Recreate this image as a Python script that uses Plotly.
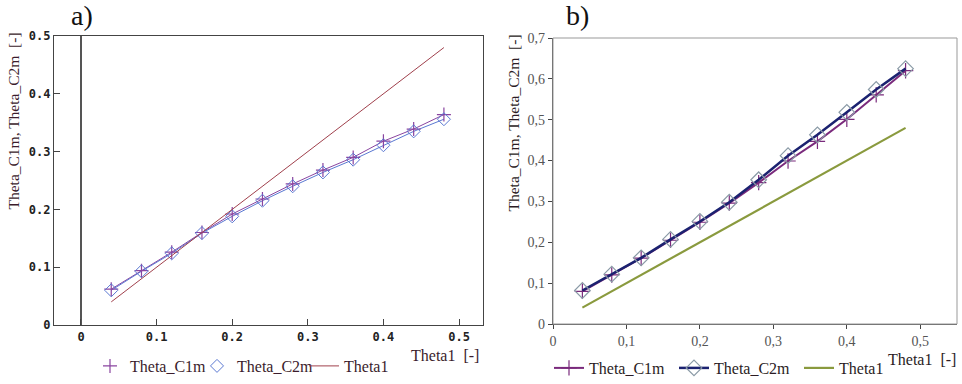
import plotly.graph_objects as go

# ---------------- data ----------------
theta1 = [0.04, 0.08, 0.12, 0.16, 0.20, 0.24, 0.28, 0.32, 0.36, 0.40, 0.44, 0.48]

a_c1m = [0.062, 0.094, 0.126, 0.160, 0.192, 0.218, 0.244, 0.268, 0.290, 0.318, 0.339, 0.364]
a_c2m = [0.060, 0.093, 0.124, 0.159, 0.188, 0.215, 0.240, 0.264, 0.286, 0.311, 0.335, 0.356]
a_theta1 = [0.04, 0.08, 0.12, 0.16, 0.20, 0.24, 0.28, 0.32, 0.36, 0.40, 0.44, 0.48]

b_c1m = [0.080, 0.120, 0.161, 0.205, 0.249, 0.296, 0.346, 0.399, 0.447, 0.501, 0.561, 0.620]
b_c2m = [0.082, 0.122, 0.162, 0.207, 0.251, 0.298, 0.353, 0.412, 0.463, 0.518, 0.574, 0.625]
b_theta1 = [0.04, 0.08, 0.12, 0.16, 0.20, 0.24, 0.28, 0.32, 0.36, 0.40, 0.44, 0.48]

a_xtick_vals = [0, 0.1, 0.2, 0.3, 0.4, 0.5]
a_xtick_text = ["0", "0.1", "0.2", "0.3", "0.4", "0.5"]
a_ytick_vals = [0, 0.1, 0.2, 0.3, 0.4, 0.5]
a_ytick_text = ["0", "0.1", "0.2", "0.3", "0.4", "0.5"]

b_xtick_vals = [0, 0.1, 0.2, 0.3, 0.4, 0.5]
b_xtick_text = ["0", "0,1", "0,2", "0,3", "0,4", "0,5"]
b_ytick_vals = [0, 0.1, 0.2, 0.3, 0.4, 0.5, 0.6, 0.7]
b_ytick_text = ["0", "0,1", "0,2", "0,3", "0,4", "0,5", "0,6", "0,7"]

series_names = ["Theta_C1m", "Theta_C2m", "Theta1"]
y_title = "Theta_C1m, Theta_C2m\u00a0\u00a0[-]"
x_title = "Theta1\u00a0\u00a0[-]"

# ---------------- styles ----------------
W, H = 962, 384
SERIF = "Liberation Serif"
MONO = "DejaVu Sans Mono"
TXT_A = "#3b1c2c"
TXT_B = "#2b1c24"

A_C1 = "#8a45a0"
A_C2 = "#5a78d2"
A_T1 = "#a0404c"
B_C1 = "#7a2a7c"
B_C2 = "#1b2270"
B_T1 = "#8a9a3e"

fig = go.Figure()

# ---- panel a ----
fig.add_trace(go.Scatter(x=theta1, y=a_c1m, mode="lines", line=dict(color=A_C1, width=1),
                         xaxis="x", yaxis="y", showlegend=False, hoverinfo="skip"))
fig.add_trace(go.Scatter(x=theta1, y=a_c2m, mode="lines", line=dict(color=A_C2, width=1),
                         xaxis="x", yaxis="y", showlegend=False, hoverinfo="skip"))
fig.add_trace(go.Scatter(x=theta1, y=a_c1m, mode="markers", name=series_names[0],
                         marker=dict(symbol="cross-thin-open", size=10, color=A_C1,
                                     line=dict(color=A_C1, width=1.2)),
                         xaxis="x", yaxis="y", legend="legend"))
fig.add_trace(go.Scatter(x=theta1, y=a_c2m, mode="markers", name=series_names[1],
                         marker=dict(symbol="diamond-open", size=10, color=A_C2,
                                     line=dict(color=A_C2, width=1)),
                         xaxis="x", yaxis="y", legend="legend"))
fig.add_trace(go.Scatter(x=theta1, y=a_theta1, mode="lines", name=series_names[2],
                         line=dict(color=A_T1, width=1),
                         xaxis="x", yaxis="y", legend="legend"))

# ---- panel b ----
fig.add_trace(go.Scatter(x=theta1, y=b_c1m, mode="lines+markers", name=series_names[0],
                         line=dict(color=B_C1, width=2),
                         marker=dict(symbol="cross-thin-open", size=11, color=B_C1,
                                     line=dict(color=B_C1, width=1.2)),
                         xaxis="x2", yaxis="y2", legend="legend2"))
fig.add_trace(go.Scatter(x=theta1, y=b_c2m, mode="lines+markers", name=series_names[1],
                         line=dict(color=B_C2, width=2.5),
                         marker=dict(symbol="diamond-open", size=12, color="#8a9aa6",
                                     line=dict(color="#8a9aa6", width=1.2)),
                         xaxis="x2", yaxis="y2", legend="legend2"))
fig.add_trace(go.Scatter(x=theta1, y=b_theta1, mode="lines", name=series_names[2],
                         line=dict(color=B_T1, width=2.2),
                         xaxis="x2", yaxis="y2", legend="legend2"))

ax_a = dict(showgrid=False, ticks="inside", ticklen=6, tickcolor="#444", automargin=False,
            showline=True, linecolor="#444", linewidth=1.2, mirror=True,
            tickfont=dict(family=MONO, size=12, color="#222", weight="bold"))
ax_b = dict(showgrid=False, ticks="outside", ticklen=4, tickcolor="#444", automargin=False,
            showline=True, linecolor="#555", linewidth=1.2, mirror=False, zeroline=False,
            tickfont=dict(family=SERIF, size=14, color="#555"))

fig.update_layout(
    width=W, height=H,
    margin=dict(l=0, r=0, t=0, b=0, autoexpand=False),
    paper_bgcolor="white", plot_bgcolor="white",
    hovermode=False,
    xaxis=dict(domain=[54 / W, 483 / W], range=[-0.0357, 0.5317],
               tickvals=a_xtick_vals, ticktext=a_xtick_text,
               zeroline=True, zerolinecolor="#555", zerolinewidth=1.5,
               anchor="y", **ax_a),
    yaxis=dict(domain=[59 / H, 348 / H], range=[0, 0.5],
               tickvals=a_ytick_vals, ticktext=a_ytick_text, zeroline=False,
               anchor="x", **ax_a),
    xaxis2=dict(domain=[553 / W, 957 / W], range=[0, 0.55],
                tickvals=b_xtick_vals, ticktext=b_xtick_text,
                anchor="y2", **ax_b),
    yaxis2=dict(domain=[60 / H, 346 / H], range=[0, 0.7],
                tickvals=b_ytick_vals, ticktext=b_ytick_text,
                anchor="x2", **ax_b),
    legend=dict(orientation="h", x=90 / W, xanchor="left", y=(H - 366) / H, yanchor="middle",
                font=dict(family=SERIF, size=16, color=TXT_A), bgcolor="rgba(0,0,0,0)",
                itemwidth=30, entrywidth=62, entrywidthmode="pixels"),
    legend2=dict(orientation="h", x=549 / W, xanchor="left", y=(H - 368) / H, yanchor="middle",
                 font=dict(family=SERIF, size=16, color=TXT_B), bgcolor="rgba(0,0,0,0)",
                 itemwidth=30, entrywidth=80, entrywidthmode="pixels"),
    showlegend=True,
)

# light frame for panel b (top/right borders)
fig.add_shape(type="rect", xref="x2 domain", yref="y2 domain", x0=0, x1=1, y0=0, y1=1,
              line=dict(color="#999", width=1), layer="above")

annotations = [
    dict(text="a)", x=82 / W, y=(H - 16) / H, font=dict(family=SERIF, size=28, color="#111")),
    dict(text="b)", x=577 / W, y=(H - 16) / H, font=dict(family=SERIF, size=28, color="#111")),
    dict(text=y_title, x=13 / W, y=(H - 31) / H, yanchor="top", textangle=-90,
         font=dict(family=SERIF, size=15.5, color=TXT_A)),
    dict(text=y_title, x=513 / W, y=(H - 33) / H, yanchor="top", textangle=-90,
         font=dict(family=SERIF, size=15.5, color=TXT_B)),
    dict(text=x_title, x=481 / W, xanchor="right", y=(H - 355) / H,
         font=dict(family=SERIF, size=16, color=TXT_A)),
    dict(text=x_title, x=958 / W, xanchor="right", y=(H - 359) / H,
         font=dict(family=SERIF, size=16, color=TXT_B)),
]
for a in annotations:
    a.setdefault("xanchor", "center")
    a.setdefault("yanchor", "middle")
    fig.add_annotation(xref="paper", yref="paper", showarrow=False, **a)

fig.write_html("out.html", config={"displayModeBar": False},
               post_script="document.body.style.margin='0px';document.body.style.overflow='hidden';")
